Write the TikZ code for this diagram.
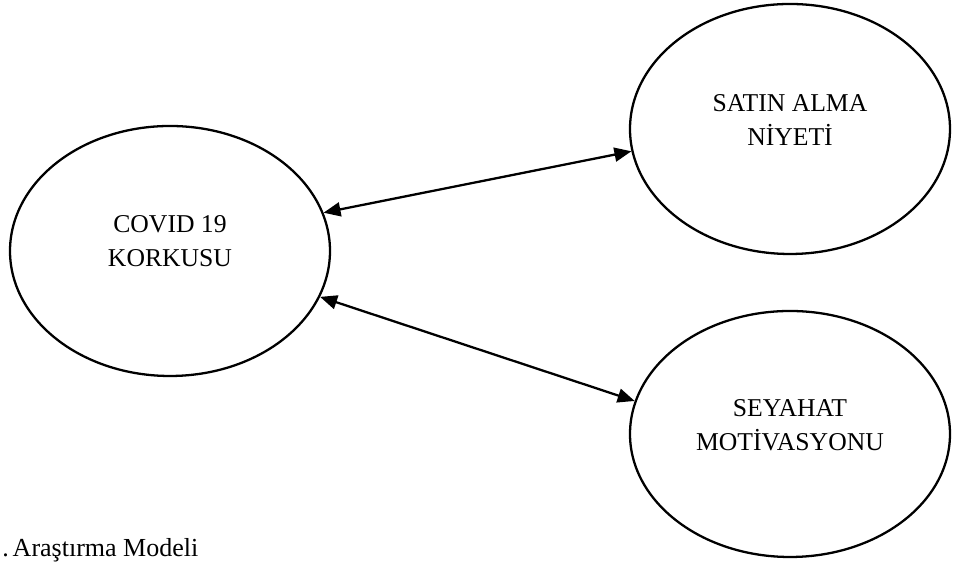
\documentclass[tikz,border=0pt]{standalone}
\usepackage{fontspec}
\setmainfont{Liberation Serif}
\usepackage{tikz}
\usetikzlibrary{arrows.meta, shapes.geometric}
\tikzset{
    modelnode/.style={ellipse, draw, line width=1.3pt, minimum width=6.4cm, minimum height=5cm, inner sep=0pt},
    modeltext/.style={align=center, font=\fontsize{14.6}{19.5}\selectfont, inner sep=0pt},
    biarrow/.style={{Triangle[length=3.4mm,width=2.8mm]}-{Triangle[length=3.4mm,width=2.8mm]}, line width=1.3pt}
}
\begin{document}
\begin{tikzpicture}
    \useasboundingbox (0,0) rectangle (19.24,11.24);
    % constructs
    \node[modelnode] (covid) at (3.40,6.22) {};
    \node[modelnode] (satin) at (15.80,8.66) {};
    \node[modelnode, minimum height=4.92cm] (seyahat) at (15.80,2.56) {};
    \node[modeltext] (covidlbl) at ([yshift=0.2cm]covid.center) {COVID 19\\KORKUSU};
    \node[modeltext] (satinlbl) at ([yshift=0.18cm]satin.center) {SATIN ALMA\\NİYETİ};
    \node[modeltext] (seyahatlbl) at ([yshift=0.18cm]seyahat.center) {SEYAHAT\\MOTİVASYONU};

    \draw[biarrow] (covid.14) -- (satin.188);
    \draw[biarrow] (covid.-17) -- (seyahat.168);

    % caption
    \node[font=\fontsize{14.8}{18}\selectfont, anchor=base west, inner sep=0pt] (caption) at (0.04,0.10) {.\hspace{0.15em}Araştırma Modeli};
\end{tikzpicture}
\end{document}
